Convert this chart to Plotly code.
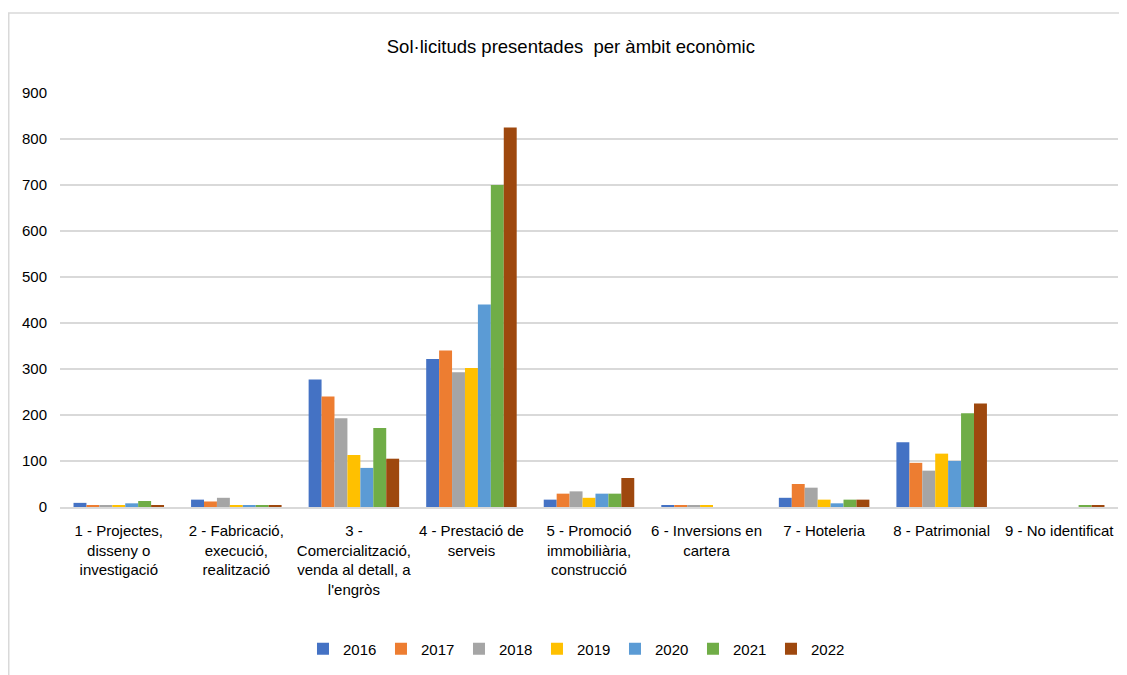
import plotly.graph_objects as go

categories = [
    "1 - Projectes,<br>disseny o<br>investigació",
    "2 - Fabricació,<br>execució,<br>realització",
    "3 -<br>Comercialització,<br>venda al detall, a<br>l'engròs",
    "4 - Prestació de<br>serveis",
    "5 - Promoció<br>immobiliària,<br>construcció",
    "6 - Inversions en<br>cartera",
    "7 - Hoteleria",
    "8 - Patrimonial",
    "9 - No identificat",
]
years = ["2016", "2017", "2018", "2019", "2020", "2021", "2022"]
v2016 = [9, 16, 277, 322, 16, 4, 20, 141, 0]
v2017 = [4, 12, 240, 340, 29, 4, 50, 96, 0]
v2018 = [4, 20, 193, 293, 34, 4, 42, 79, 0]
v2019 = [4, 4, 113, 302, 20, 4, 16, 116, 0]
v2020 = [8, 4, 85, 440, 29, 0, 8, 100, 0]
v2021 = [13, 4, 172, 700, 29, 0, 16, 204, 4]
v2022 = [4, 4, 105, 825, 63, 0, 16, 225, 4]
series = [v2016, v2017, v2018, v2019, v2020, v2021, v2022]
colors = ["#4472C4", "#ED7D31", "#A5A5A5", "#FFC000", "#5B9BD5", "#70AD47", "#9E480E"]

FONT = "Liberation Sans, Arial, sans-serif"

fig = go.Figure()
for y, vals, c in zip(years, series, colors):
    fig.add_trace(go.Bar(name=y, x=categories, y=vals, marker=dict(color=c, line=dict(width=0))))

# page body has an 8px margin: figure origin is at (8, 8) in the window
W, H = 1119, 667
L, T, R, B = 52, 85, 9, 168
PW, PH = W - L - R, H - T - B

fig.update_layout(
    width=W, height=H,
    barmode="group", bargap=0.23, bargroupgap=0,
    paper_bgcolor="white", plot_bgcolor="white",
    margin=dict(l=L, r=R, t=T, b=B, autoexpand=False),
    font=dict(family=FONT, size=14, color="#000000"),
    title=dict(text="Sol·licituds presentades  per àmbit econòmic", x=0.503, xanchor="center",
               y=1 - 39 / H, yanchor="middle", font=dict(family=FONT, size=18.5, color="#000000")),
    legend=dict(orientation="h", x=0.4877, xanchor="center", y=-0.343, yanchor="middle",
                font=dict(family=FONT, size=15), itemwidth=30, traceorder="normal",
                entrywidth=33, entrywidthmode="pixels"),
    xaxis=dict(showgrid=False, showline=True, linecolor="#d9d9d9", linewidth=2,
               ticks="", tickangle=0, ticklabelstandoff=9, tickfont=dict(family=FONT, size=15)),
    yaxis=dict(range=[0, 900], dtick=100, showgrid=True, gridcolor="#d9d9d9", gridwidth=2,
               zeroline=False, ticks="", ticklabelstandoff=12,
               tickfont=dict(family=FONT, size=15)),
    shapes=[dict(type="rect", xref="paper", yref="paper",
                 x0=(0.75 - L) / PW, x1=(W - 1 - L) / PW,
                 y0=-(B + 5) / PH, y1=(PH + T - 5) / PH,
                 line=dict(color="#d9d9d9", width=1.5), fillcolor="rgba(0,0,0,0)", layer="below")],
)

fig.write_html("out.html")
